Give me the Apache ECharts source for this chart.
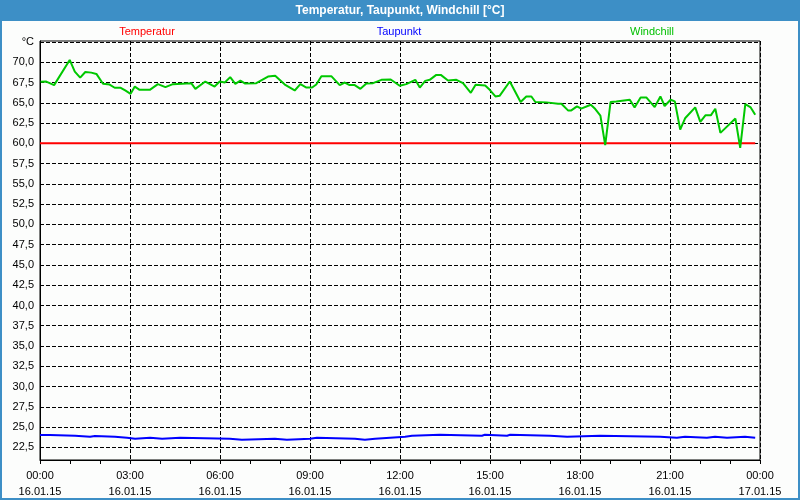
<!DOCTYPE html>
<html>
<head>
<meta charset="utf-8">
<script src="https://cdn.jsdelivr.net/npm/echarts@6/dist/echarts.min.js"></script>
<style>
html,body{margin:0;padding:0;background:#fff;}
#chart{width:800px;height:500px;}
</style>
</head>
<body>
<div id="chart"></div>
<script>
// ---- data ----
var chartTitle = 'Temperatur, Taupunkt, Windchill [°C]';
var seriesNames = ['Temperatur', 'Taupunkt', 'Windchill'];

var tempHours = [0, 6, 12, 18, 23.84];
var tempValues = [60.0, 60.0, 60.0, 60.0, 60.0];

var dewHours = [0, 0.33, 1.17, 1.67, 1.83, 2.5, 2.9, 3.17, 3.67, 4.07, 4.67, 6.33, 6.73, 7.83, 8.23, 9, 9.23, 10.5, 10.83, 11.17, 11.67, 12.17, 12.4, 13.33, 14.73, 14.83, 15.57, 15.67, 17, 17.57, 18.67, 20.67, 21.23, 21.5, 22.23, 22.5, 22.9, 23.5, 23.84];
var dewValues = [24.01, 23.93, 23.8, 23.9, 23.8, 23.68, 23.56, 23.68, 23.56, 23.68, 23.56, 23.44, 23.56, 23.44, 23.56, 23.68, 23.56, 23.44, 23.56, 23.68, 23.8, 23.93, 24.05, 23.93, 24.05, 23.93, 24.05, 23.93, 23.8, 23.93, 23.8, 23.68, 23.8, 23.68, 23.8, 23.68, 23.8, 23.68, 23.68];

var chillHours = [0.02, 0.21, 0.47, 0.99, 1.16, 1.34, 1.51, 1.71, 1.88, 2.1, 2.32, 2.49, 2.69, 2.84, 3.02, 3.16, 3.32, 3.66, 3.93, 4.18, 4.43, 5.04, 5.18, 5.51, 5.82, 5.99, 6.16, 6.34, 6.51, 6.68, 6.84, 7.21, 7.6, 7.84, 8.16, 8.49, 8.68, 8.88, 9.07, 9.21, 9.38, 9.71, 9.99, 10.16, 10.32, 10.49, 10.68, 10.88, 11.1, 11.38, 11.69, 11.99, 12.21, 12.51, 12.66, 12.84, 12.99, 13.21, 13.36, 13.6, 13.88, 14.1, 14.36, 14.52, 14.84, 14.99, 15.18, 15.32, 15.66, 16.02, 16.21, 16.38, 16.51, 16.88, 17.27, 17.38, 17.6, 17.71, 17.9, 18.04, 18.36, 18.51, 18.68, 18.84, 19.02, 19.21, 19.66, 19.82, 20.02, 20.21, 20.49, 20.68, 20.82, 21.02, 21.16, 21.34, 21.51, 21.84, 22.01, 22.18, 22.36, 22.51, 22.68, 23.18, 23.24, 23.34, 23.51, 23.69, 23.84];
var chillValues = [67.58, 67.62, 67.18, 70.28, 68.85, 68.1, 68.8, 68.72, 68.56, 67.34, 67.25, 66.85, 66.85, 66.52, 66.11, 67.0, 66.6, 66.6, 67.3, 66.93, 67.3, 67.42, 66.72, 67.62, 67.0, 67.62, 67.5, 68.16, 67.34, 67.74, 67.37, 67.42, 68.23, 68.32, 67.25, 66.52, 67.3, 66.88, 66.88, 67.25, 68.28, 68.28, 67.18, 67.5, 67.18, 67.18, 66.72, 67.37, 67.42, 67.83, 67.87, 67.1, 67.3, 67.83, 66.88, 67.7, 67.83, 68.44, 68.44, 67.74, 67.83, 67.42, 66.23, 67.22, 67.13, 66.6, 65.78, 65.86, 67.62, 65.1, 65.78, 65.78, 65.1, 65.05, 64.88, 64.88, 64.06, 64.06, 64.55, 64.27, 64.76, 64.23, 63.41, 59.77, 65.1, 65.17, 65.38, 64.43, 65.66, 65.66, 64.47, 65.78, 64.6, 65.38, 65.17, 61.7, 63.13, 64.43, 62.64, 63.45, 63.45, 64.27, 61.29, 63.05, 62.9, 59.45, 64.84, 64.43, 63.53];

var yTickValues = [22.5, 25.0, 27.5, 30.0, 32.5, 35.0, 37.5, 40.0, 42.5, 45.0, 47.5, 50.0, 52.5, 55.0, 57.5, 60.0, 62.5, 65.0, 67.5, 70.0, 72.5];
var yTickLabels = ['22,5', '25,0', '27,5', '30,0', '32,5', '35,0', '37,5', '40,0', '42,5', '45,0', '47,5', '50,0', '52,5', '55,0', '57,5', '60,0', '62,5', '65,0', '67,5', '70,0', '°C'];
var xTickHours = [0, 3, 6, 9, 12, 15, 18, 21, 24];
var xTickLabels = ['00:00\n16.01.15', '03:00\n16.01.15', '06:00\n16.01.15', '09:00\n16.01.15', '12:00\n16.01.15', '15:00\n16.01.15', '18:00\n16.01.15', '21:00\n16.01.15', '00:00\n17.01.15'];

function zip(a, b) { return a.map(function (v, i) { return [v, b[i]]; }); }

var FONT = '"Liberation Sans", Arial, sans-serif';
var frameBlue = '#3d8fc6';

var chart = echarts.init(document.getElementById('chart'), null, { renderer: 'canvas' });
chart.setOption({
  animation: false,
  backgroundColor: '#fcfdfc',
  graphic: [
    { type: 'rect', shape: { x: 0, y: 0, width: 800, height: 21 }, style: { fill: frameBlue }, z: 0 },
    { type: 'rect', shape: { x: 1, y: 1, width: 798, height: 498 }, style: { fill: null, stroke: frameBlue, lineWidth: 2 }, z: 0 },
    { type: 'text', style: { x: 400, y: 11, text: chartTitle, fill: '#ffffff', font: 'bold 12px ' + FONT, textAlign: 'center', textVerticalAlign: 'middle' } },
    { type: 'text', style: { x: 147, y: 32, text: seriesNames[0], fill: '#ff0000', font: '11px ' + FONT, textAlign: 'center', textVerticalAlign: 'middle' } },
    { type: 'text', style: { x: 399, y: 32, text: seriesNames[1], fill: '#0000ff', font: '11px ' + FONT, textAlign: 'center', textVerticalAlign: 'middle' } },
    { type: 'text', style: { x: 652, y: 32, text: seriesNames[2], fill: '#00c000', font: '11px ' + FONT, textAlign: 'center', textVerticalAlign: 'middle' } }
  ],
  grid: { left: 40, top: 41, width: 720, height: 420, show: true, borderColor: '#000', borderWidth: 1, backgroundColor: 'transparent' },
  xAxis: {
    type: 'value', min: 0, max: 24, interval: 3,
    axisLine: { show: true, lineStyle: { color: '#000', width: 1 } },
    axisTick: { show: true, length: 4, lineStyle: { color: '#000' } },
    minorTick: { show: true, splitNumber: 3, length: 4, lineStyle: { color: '#000' } },
    splitLine: { show: true, lineStyle: { color: '#000', type: [4, 2], width: 1 } },
    axisLabel: {
      margin: 8, color: '#000', fontFamily: FONT, fontSize: 11, lineHeight: 16,
      formatter: function (v) { var i = xTickHours.indexOf(v); return i >= 0 ? xTickLabels[i] : ''; }
    }
  },
  yAxis: {
    type: 'value', min: 20.94, max: 72.62,
    axisLine: { show: true, lineStyle: { color: '#000', width: 1 } },
    axisTick: { show: false, customValues: yTickValues },
    splitLine: { show: true, lineStyle: { color: '#000', type: [4, 2], width: 1 } },
    axisLabel: {
      customValues: yTickValues, margin: 6, color: '#000', fontFamily: FONT, fontSize: 11,
      formatter: function (v) {
        for (var i = 0; i < yTickValues.length; i++) { if (Math.abs(yTickValues[i] - v) < 1e-6) return yTickLabels[i]; }
        return '';
      }
    }
  },
  series: [
    { name: seriesNames[0], type: 'line', data: zip(tempHours, tempValues), symbol: 'none', lineStyle: { color: '#ff0000', width: 2 }, z: 3 },
    { name: seriesNames[1], type: 'line', step: 'end', data: zip(dewHours, dewValues), symbol: 'none', lineStyle: { color: '#0000ff', width: 2 }, z: 4 },
    { name: seriesNames[2], type: 'line', data: zip(chillHours, chillValues), symbol: 'none', lineStyle: { color: '#00c800', width: 2 }, z: 5 }
  ]
});
</script>
</body>
</html>
